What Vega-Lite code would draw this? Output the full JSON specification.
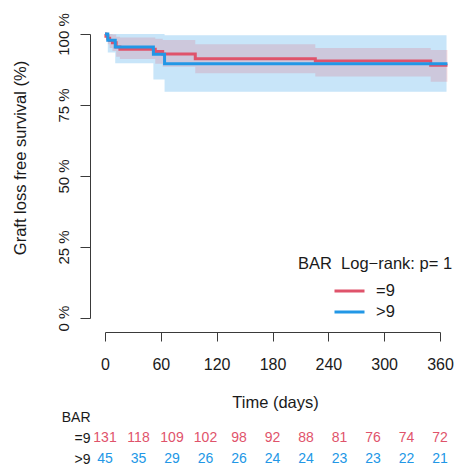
{
  "$schema": "https://vega.github.io/schema/vega-lite/v6.json",
  "width": 335,
  "height": 284,
  "autosize": {"type": "none"},
  "padding": {"left": 105, "top": 34, "right": 17, "bottom": 151},
  "background": "white",
  "config": {
    "view": {"stroke": null},
    "font": "Liberation Sans",
    "axis": {"grid": false, "domainColor": "#3a3a3a", "tickColor": "#3a3a3a", "labelColor": "#1a1a1a", "titleColor": "#1a1a1a", "titleFontWeight": "normal"}
  },
  "datasets": {
    "curve": [
      {"group": "=9", "t": 0, "s": 1},
      {"group": "=9", "t": 1, "s": 0.992},
      {"group": "=9", "t": 3, "s": 0.985},
      {"group": "=9", "t": 5, "s": 0.977},
      {"group": "=9", "t": 8, "s": 0.969},
      {"group": "=9", "t": 12, "s": 0.954},
      {"group": "=9", "t": 16, "s": 0.946},
      {"group": "=9", "t": 54, "s": 0.938},
      {"group": "=9", "t": 62, "s": 0.930},
      {"group": "=9", "t": 97, "s": 0.913},
      {"group": "=9", "t": 226, "s": 0.905},
      {"group": "=9", "t": 350, "s": 0.890},
      {"group": "=9", "t": 368, "s": 0.890},
      {"group": ">9", "t": 0, "s": 1},
      {"group": ">9", "t": 3, "s": 0.978},
      {"group": ">9", "t": 11, "s": 0.954},
      {"group": ">9", "t": 52, "s": 0.929},
      {"group": ">9", "t": 64, "s": 0.895},
      {"group": ">9", "t": 368, "s": 0.895}
    ],
    "band": [
      {"group": "=9", "t": 0, "lower": 1, "upper": 1},
      {"group": "=9", "t": 1, "lower": 0.977, "upper": 1},
      {"group": "=9", "t": 3, "lower": 0.964, "upper": 1},
      {"group": "=9", "t": 5, "lower": 0.951, "upper": 1},
      {"group": "=9", "t": 8, "lower": 0.94, "upper": 0.998},
      {"group": "=9", "t": 12, "lower": 0.92, "upper": 0.99},
      {"group": "=9", "t": 16, "lower": 0.912, "upper": 0.988},
      {"group": "=9", "t": 54, "lower": 0.895, "upper": 0.983},
      {"group": "=9", "t": 62, "lower": 0.885, "upper": 0.979},
      {"group": "=9", "t": 97, "lower": 0.862, "upper": 0.964},
      {"group": "=9", "t": 226, "lower": 0.85, "upper": 0.951},
      {"group": "=9", "t": 350, "lower": 0.832, "upper": 0.944},
      {"group": "=9", "t": 368, "lower": 0.832, "upper": 0.944},
      {"group": ">9", "t": 0, "lower": 1, "upper": 1},
      {"group": ">9", "t": 3, "lower": 0.935, "upper": 1},
      {"group": ">9", "t": 11, "lower": 0.897, "upper": 1},
      {"group": ">9", "t": 52, "lower": 0.84, "upper": 1},
      {"group": ">9", "t": 64, "lower": 0.797, "upper": 0.996},
      {"group": ">9", "t": 367, "lower": 0.797, "upper": 0.996}
    ],
    "risk": [
      {"group": "=9", "t": 0, "n": 131},
      {"group": "=9", "t": 36, "n": 118},
      {"group": "=9", "t": 72, "n": 109},
      {"group": "=9", "t": 108, "n": 102},
      {"group": "=9", "t": 144, "n": 98},
      {"group": "=9", "t": 180, "n": 92},
      {"group": "=9", "t": 216, "n": 88},
      {"group": "=9", "t": 252, "n": 81},
      {"group": "=9", "t": 288, "n": 76},
      {"group": "=9", "t": 324, "n": 74},
      {"group": "=9", "t": 360, "n": 72},
      {"group": ">9", "t": 0, "n": 45},
      {"group": ">9", "t": 36, "n": 35},
      {"group": ">9", "t": 72, "n": 29},
      {"group": ">9", "t": 108, "n": 26},
      {"group": ">9", "t": 144, "n": 26},
      {"group": ">9", "t": 180, "n": 24},
      {"group": ">9", "t": 216, "n": 24},
      {"group": ">9", "t": 252, "n": 23},
      {"group": ">9", "t": 288, "n": 23},
      {"group": ">9", "t": 324, "n": 22},
      {"group": ">9", "t": 360, "n": 21}
    ]
  },
  "layer": [
    {
      "layer": [
        {
          "data": {"name": "band"},
          "transform": [{"filter": "datum.group == '>9'"}],
          "mark": {"type": "area", "interpolate": "step-after", "color": "#2297E6", "opacity": 0.25},
          "encoding": {
            "x": {
              "field": "t", "type": "quantitative",
              "scale": {"domain": [0, 360], "nice": false, "zero": false},
              "axis": {
                "values": [0, 30, 60, 90, 120, 150, 180, 210, 240, 270, 300, 330, 360],
                "labelExpr": "datum.value % 60 === 0 ? datum.label : ''",
                "format": "d",
                "offset": 14, "tickSize": 9, "labelPadding": 15, "labelFontSize": 16,
                "labelFlush": false, "labelOverlap": false,
                "title": "Time (days)", "titleFontSize": 16.5,
                "titleX": 170, "titleY": 62, "titleBaseline": "top", "titleAlign": "center", "titleAnchor": null
              }
            },
            "y": {
              "field": "lower", "type": "quantitative",
              "scale": {"domain": [0, 1], "nice": false, "zero": false},
              "axis": {
                "values": [0, 0.25, 0.5, 0.75, 1],
                "labelExpr": "round(datum.value * 100) + ' %'",
                "offset": 15, "tickSize": 10,
                "labelAngle": 270, "labelAlign": "center", "labelBaseline": "bottom",
                "labelPadding": 8.5, "labelFontSize": 15, "labelFlush": false, "labelOverlap": false,
                "title": "Graft loss free survival (%)", "titleFontSize": 16.5,
                "titleAngle": 270, "titleAlign": "center", "titleBaseline": "bottom",
                "titleX": -62, "titleY": 123.5
              }
            },
            "y2": {"field": "upper"}
          }
        },
        {
          "data": {"name": "band"},
          "transform": [{"filter": "datum.group == '=9'"}],
          "mark": {"type": "area", "interpolate": "step-after", "color": "#DF536B", "opacity": 0.2},
          "encoding": {
            "x": {"field": "t", "type": "quantitative"},
            "y": {"field": "lower", "type": "quantitative"},
            "y2": {"field": "upper"}
          }
        },
        {
          "data": {"name": "curve"},
          "mark": {"type": "line", "interpolate": "step-after", "strokeWidth": 3},
          "encoding": {
            "x": {"field": "t", "type": "quantitative"},
            "y": {"field": "s", "type": "quantitative"},
            "color": {
              "field": "group", "type": "nominal",
              "scale": {"domain": ["=9", ">9"], "range": ["#DF536B", "#2297E6"]},
              "legend": {
                "orient": "none", "legendX": 193, "legendY": 222,
                "title": "BAR\u00a0\u00a0Log\u2212rank: p= 1",
                "titleFontSize": 16.5, "titleFontWeight": "normal", "titleColor": "#1a1a1a",
                "titleAnchor": "start", "titlePadding": 9, "titleLimit": 0,
                "labelFontSize": 16.5, "labelColor": "#1a1a1a",
                "symbolType": "stroke", "symbolSize": 900, "symbolStrokeWidth": 3,
                "symbolOffset": 35, "labelOffset": 10, "rowPadding": 2, "clipHeight": 19, "padding": 0
              }
            }
          }
        }
      ]
    },
    {
      "data": {"name": "risk"},
      "mark": {"type": "text", "fontSize": 14, "align": "center", "baseline": "middle"},
      "encoding": {
        "x": {"field": "t", "type": "quantitative"},
        "y": {
          "field": "group", "type": "nominal",
          "scale": {"type": "point", "domain": ["BAR", "=9", ">9"], "range": [383, 425], "padding": 0},
          "axis": {"orient": "left", "offset": 15, "domain": false, "ticks": false, "tickSize": 0, "labelPadding": 0, "labelFontSize": 14, "labelColor": "#1a1a1a", "title": null}
        },
        "text": {"field": "n", "type": "quantitative"},
        "color": {"condition": {"test": "datum.group == '=9'", "value": "#DF536B"}, "value": "#2297E6"}
      }
    }
  ],
  "resolve": {"scale": {"y": "independent"}, "axis": {"y": "independent"}}
}
